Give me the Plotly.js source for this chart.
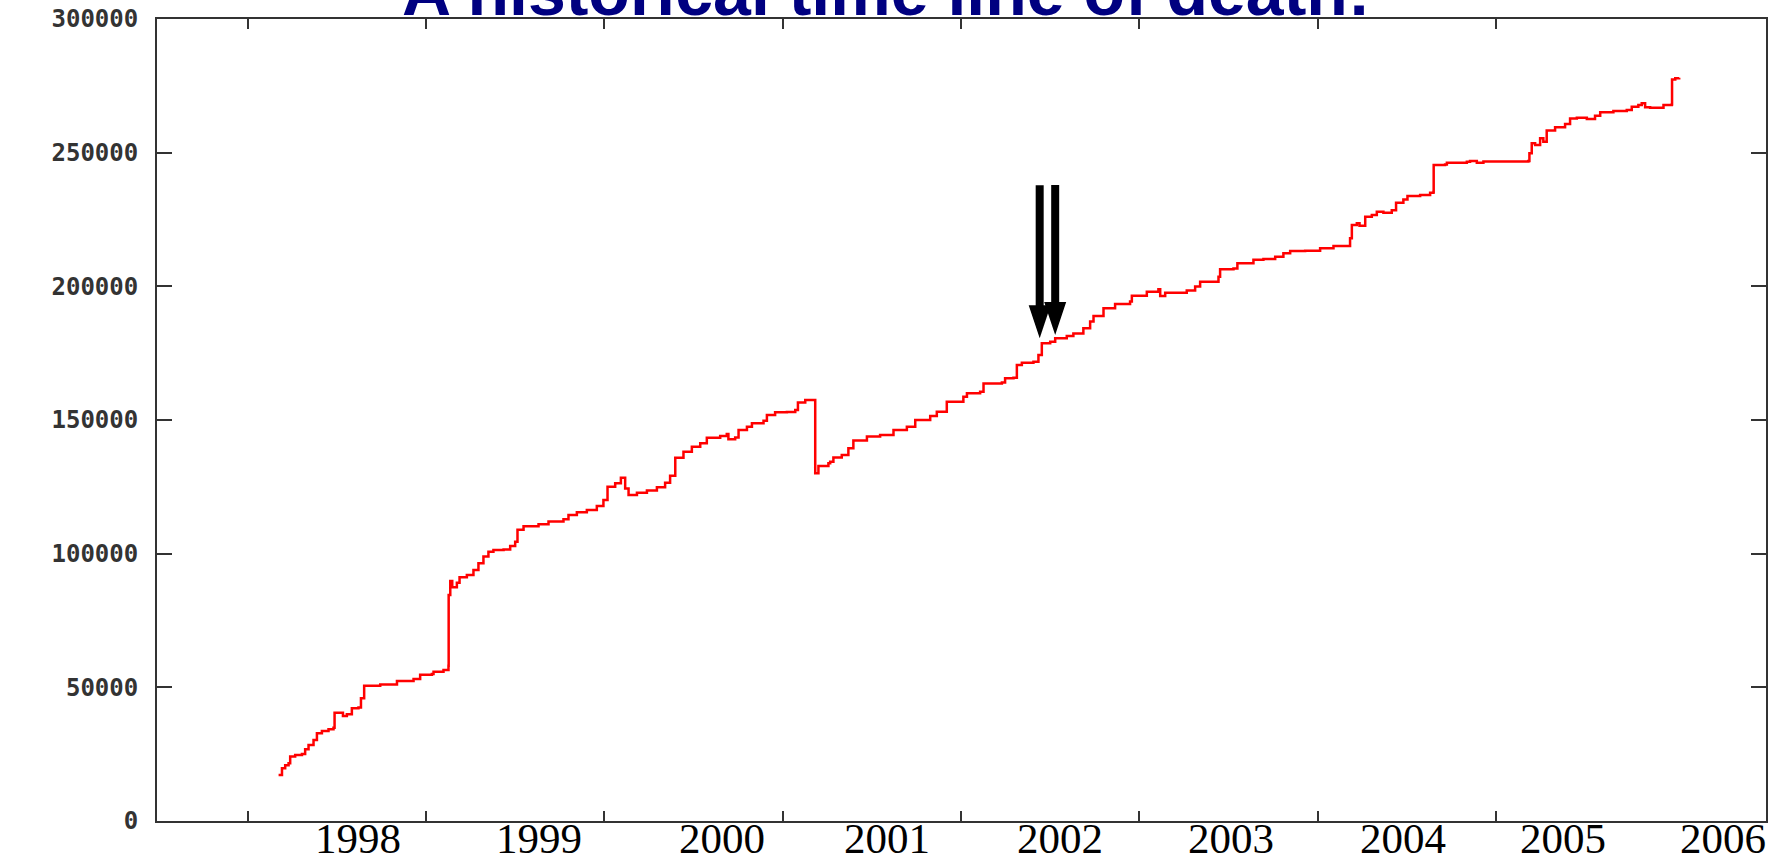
<!DOCTYPE html>
<html><head><meta charset="utf-8">
<script src="https://cdn.plot.ly/plotly-3.0.1.min.js"></script>
<style>html,body{margin:0;padding:0;background:#fff;overflow:hidden;} #chart{width:1771px;height:858px;}</style>
</head><body><div id="chart"></div>
<script>
// decimal years
const dates = [
1998.172,1998.191,1998.209,1998.228,1998.237,1998.265,1998.303,1998.321,1998.340,1998.368,
1998.387,1998.415,1998.452,1998.480,1998.486,1998.533,1998.555,1998.583,1998.620,1998.634,
1998.652,1998.742,1998.836,1998.929,1998.966,1999.032,1999.041,1999.097,1999.125,1999.126,
1999.135,1999.146,1999.172,1999.187,1999.228,1999.265,1999.293,1999.321,1999.349,1999.377,
1999.434,1999.471,1999.499,1999.512,1999.546,1999.630,1999.686,1999.770,1999.798,1999.845,
1999.901,1999.957,1999.994,2000.017,2000.060,2000.092,2000.116,2000.135,2000.182,2000.238,
2000.294,2000.340,2000.368,2000.397,2000.443,2000.490,2000.537,2000.574,2000.649,2000.686,
2000.695,2000.733,2000.752,2000.799,2000.827,2000.892,2000.911,2000.957,2001.023,2001.070,
2001.085,2001.126,2001.182,2001.200,2001.256,2001.266,2001.284,2001.331,2001.368,2001.396,
2001.472,2001.546,2001.621,2001.696,2001.743,2001.827,2001.864,2001.920,2002.013,2002.033,
2002.107,2002.126,2002.229,2002.247,2002.294,2002.313,2002.341,2002.406,2002.434,2002.453,
2002.500,2002.528,2002.593,2002.630,2002.686,2002.724,2002.743,2002.799,2002.864,2002.948,
2002.958,2003.042,2003.107,2003.117,2003.145,2003.266,2003.313,2003.341,2003.444,2003.453,
2003.528,2003.550,2003.640,2003.696,2003.762,2003.808,2003.846,2003.930,2004.014,2004.089,
2004.182,2004.192,2004.220,2004.235,2004.267,2004.304,2004.332,2004.369,2004.416,2004.440,
2004.481,2004.504,2004.575,2004.631,2004.650,2004.651,2004.715,2004.725,2004.837,2004.855,
2004.893,2004.930,2005.182,2005.188,2005.201,2005.220,2005.248,2005.266,2005.285,2005.332,
2005.388,2005.416,2005.454,2005.510,2005.556,2005.585,2005.659,2005.734,2005.762,2005.799,
2005.818,2005.837,2005.865,2005.940,2005.987,2005.988,2006.006,2006.028
];
const counts = [
17200,19700,20900,21600,24100,24700,25100,26800,28400,30300,
32800,33700,34300,34900,40500,39300,39900,42200,42500,45900,
50600,51100,52400,53100,54700,55000,55800,56500,58100,84500,
89800,87400,89100,91200,92000,93900,96400,98900,100700,101400,
101600,102900,104500,108900,110300,111000,112000,112900,114500,115500,
116300,117800,120100,125000,126300,128400,124400,121900,122800,123600,
124800,126500,129100,135900,138100,140000,141300,143400,144000,144800,
142800,143500,146300,147500,148800,149700,151900,152900,153000,153700,
156500,157500,130100,132800,133800,134400,136000,136900,139400,142300,
143800,144400,146300,147500,150000,151500,153100,156800,158700,160000,
160600,163700,164000,165600,165800,170600,171400,171800,174300,178700,
179300,180600,181400,182400,184300,186800,188900,191800,193400,194300,
196500,198000,198900,196400,197600,198400,199900,201700,203600,206400,
206700,208600,209900,210200,211100,212400,213200,213300,214200,215100,
218000,222900,223600,222700,226000,226700,227900,227500,228500,231300,
232500,233800,234200,235000,235400,245400,245600,246200,246600,246900,
246200,246700,246900,249800,253500,252900,255400,254100,258300,259500,
260700,262800,263100,262600,263800,265100,265600,266000,267200,267800,
268500,267000,266800,267800,268100,277400,277800,278000
];
const yTickVals = [0, 50000, 100000, 150000, 200000, 250000, 300000];
const yTickText = ['0', '50000', '100000', '150000', '200000', '250000', '300000'];
const xTickVals = [1998, 1999, 2000, 2001, 2002, 2003, 2004, 2005];
const yearLabels = ['1998', '1999', '2000', '2001', '2002', '2003', '2004', '2005', '2006'];
const yearLabelX = [1998.619, 1999.631, 2000.657, 2001.583, 2002.556, 2003.515, 2004.480, 2005.377, 2006.274];
const arrowX = [2002.441, 2002.528];
const arrowTipY = [180600, 181800];
const titleText = 'A historical time line of death:';

const arrowLen = [153, 150];
const shapes = [];
for (let i = 0; i < arrowX.length; i++) {
  shapes.push({type:'rect', xref:'x', yref:'y', xsizemode:'pixel', ysizemode:'pixel',
    xanchor: arrowX[i], yanchor: arrowTipY[i], x0:-4, x1:4, y0:30, y1:arrowLen[i],
    fillcolor:'#000', line:{width:0}, layer:'above'});
  shapes.push({type:'path', xref:'x', yref:'y', xsizemode:'pixel', ysizemode:'pixel',
    xanchor: arrowX[i], yanchor: arrowTipY[i], path:'M-11,33 L11,33 L0,0 Z',
    fillcolor:'#000', line:{width:0}, layer:'above'});
}

const annotations = yearLabels.map((t, i) => ({
  text: t, x: yearLabelX[i], xref:'x', y: 0, yref:'paper', yanchor:'top', xanchor:'center',
  yshift: 8, showarrow:false,
  font:{family:'Liberation Serif, Times New Roman, serif', size:43, color:'#000'}
}));
annotations.push({
  text: titleText, x: 0.5, xref:'paper', y: 1, yref:'paper', yanchor:'bottom', xanchor:'center',
  xshift: -(157 - 5) / 2 + 0.5, yshift: -12, showarrow:false,
  font:{family:'Liberation Sans, Arial, sans-serif', size:68, color:'#000080', weight:'bold'}
});

const trace = {
  x: dates, y: counts, type:'scatter', mode:'lines',
  line:{color:'#ff0000', width:2.5, shape:'hv'}, hoverinfo:'skip'
};

const layout = {
  width:1771, height:858,
  margin:{l:157, r:5, t:19, b:37, pad:0},
  paper_bgcolor:'#fff', plot_bgcolor:'#fff',
  showlegend:false,
  xaxis:{range:[1997.49, 2006.515], tickvals:xTickVals, showticklabels:false,
    ticks:'inside', ticklen:10, tickwidth:2, tickcolor:'#333',
    showline:true, linecolor:'#333', linewidth:2, mirror:'ticks',
    showgrid:false, zeroline:false},
  yaxis:{range:[0, 300000], tickvals:yTickVals, ticktext:yTickText,
    ticks:'inside', ticklen:15, tickwidth:2, tickcolor:'#333',
    showline:true, linecolor:'#333', linewidth:2, mirror:'ticks',
    showgrid:false, zeroline:false, ticklabelstandoff:12,
    tickfont:{family:'DejaVu Sans Mono, monospace', size:24, color:'#333', weight:'bold'}},
  shapes: shapes,
  annotations: annotations
};
Plotly.newPlot('chart', [trace], layout, {staticPlot:true, displayModeBar:false});
</script>
</body></html>
